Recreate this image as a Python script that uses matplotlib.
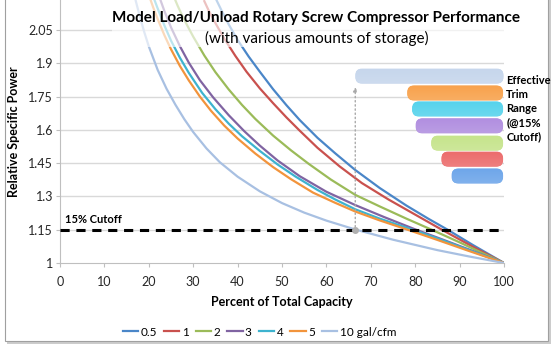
import numpy as np
import matplotlib
matplotlib.use("Agg")
import matplotlib.pyplot as plt
from matplotlib.patches import FancyBboxPatch, Rectangle

plt.rcParams['font.family'] = ['Lato', 'DejaVu Sans']

# ---- data ----
labels = ["0.5", "1", "2", "3", "4", "5", "10 gal/cfm"]
colors = ["#4a86c8", "#c9514e", "#9bbb59", "#8064a2", "#3eb3cf", "#f2943c", "#a8c0e2"]

x_05 = [35.3, 36.5, 38, 40, 42.5, 45, 48, 51, 54, 58, 62, 66.5, 72, 78, 83, 87.3, 93, 100]
y_05 = [2.182, 2.133, 2.075, 2.005, 1.930, 1.862, 1.783, 1.711, 1.644, 1.564, 1.494,
        1.419, 1.338, 1.259, 1.199, 1.150, 1.081, 1.0]

x_1 = [32.5, 33.5, 35, 37, 39.5, 42, 45, 48, 51, 54, 58, 63, 68, 74, 80, 86, 93, 100]
y_1 = [2.180, 2.137, 2.081, 2.011, 1.933, 1.862, 1.787, 1.720, 1.656, 1.596, 1.519,
       1.435, 1.360, 1.286, 1.218, 1.150, 1.073, 1.0]

x_2 = [25.5, 26.5, 28, 30, 32.5, 35, 38, 41, 44, 48, 52, 56, 61, 66.5, 72, 78, 83.7, 90, 95, 100]
y_2 = [2.207, 2.159, 2.095, 2.020, 1.935, 1.860, 1.782, 1.712, 1.649, 1.574, 1.508,
       1.447, 1.376, 1.307, 1.255, 1.200, 1.150, 1.093, 1.046, 1.0]

x_3 = [22.5, 23.5, 25, 27, 29, 31.5, 34.5, 38, 41.5, 45, 49, 54, 60, 66.5, 73, 80.2, 86, 93, 100]
y_3 = [2.192, 2.136, 2.062, 1.977, 1.903, 1.824, 1.746, 1.666, 1.594, 1.529, 1.462,
       1.391, 1.321, 1.261, 1.207, 1.150, 1.107, 1.054, 1.0]

x_4 = [21, 22, 23.5, 25, 27, 29, 32, 35, 38, 41, 45, 49, 53, 58, 62, 66.5, 72, 79.4, 85, 92, 100]
y_4 = [2.200, 2.147, 2.071, 2.002, 1.925, 1.857, 1.767, 1.693, 1.628, 1.571, 1.505,
       1.444, 1.390, 1.329, 1.286, 1.242, 1.200, 1.150, 1.111, 1.059, 1.0]

x_5 = [20, 21, 22, 23.5, 25, 27, 29, 31.5, 34, 37, 40, 44, 48, 52, 57, 62, 66.5, 72, 78.3, 85, 92, 100]
y_5 = [2.208, 2.151, 2.099, 2.027, 1.963, 1.888, 1.823, 1.750, 1.686, 1.619, 1.561,
       1.493, 1.432, 1.378, 1.317, 1.271, 1.232, 1.192, 1.150, 1.104, 1.055, 1.0]

x_10 = [17, 18, 19, 20, 22, 24, 26, 28, 30, 33, 36, 40, 45, 50, 55, 60, 66.5, 75, 85, 92, 100]
y_10 = [2.186, 2.109, 2.039, 1.976, 1.870, 1.785, 1.713, 1.648, 1.590, 1.516, 1.454,
        1.389, 1.323, 1.270, 1.227, 1.191, 1.151, 1.105, 1.058, 1.030, 1.0]

series_x = [x_05, x_1, x_2, x_3, x_4, x_5, x_10]
series_y = [y_05, y_1, y_2, y_3, y_4, y_5, y_10]

# effective trim range bars (start of range at 15% cutoff), top bar first
trim_start = [66.6, 78.3, 79.4, 80.2, 83.7, 86.0, 88.3]
trim_end = [99.8, 99.7, 99.7, 99.7, 99.7, 99.7, 99.7]
trim_y = [1.842, 1.766, 1.694, 1.618, 1.540, 1.468, 1.392]
trim_colors = ["#c6d6ec", "#f8a24c", "#56d3ec", "#b18fe0", "#c6e48c", "#ec6c6c", "#6ea6ea"]
bar_h = 0.064

cutoff = 1.15
cutoff_x = 66.5

yticks = [1, 1.15, 1.3, 1.45, 1.6, 1.75, 1.9, 2.05]
ytick_labels = ["1", "1.15", "1.3", "1.45", "1.6", "1.75", "1.9", "2.05"]
xticks = list(range(0, 101, 10))

# ---- figure ----
fig = plt.figure(figsize=(5.59, 3.52), dpi=100)

# outer frame with shadow
fig.patches.append(Rectangle((7 / 559, 1 - 344 / 352), 544 / 559, 344 / 352,
                             transform=fig.transFigure, facecolor="#9a9a9a",
                             edgecolor="none", alpha=0.5, zorder=-2))
fig.patches.append(Rectangle((5 / 559, 1 - 341 / 352), 543 / 559, 343 / 352,
                             transform=fig.transFigure, facecolor="white",
                             edgecolor="#a0a0a0", lw=0.8, zorder=-1))

ax = fig.add_axes([60 / 559, 1 - 263 / 352, 444 / 559, 263 / 352])
ax.set_xlim(0, 100)
ax.set_ylim(1, 2.185)
ax.patch.set_alpha(0)

for yv in yticks[1:]:
    ax.axhline(yv, color="#d9d9d9", lw=1, zorder=0)

lines = []
for xs, ys, c, lab in zip(series_x, series_y, colors, labels):
    ln, = ax.plot(xs, ys, color=c, lw=1.6, label=lab, zorder=2,
                  solid_joinstyle="round")
    lines.append(ln)

# translucent title box over the tops of the curves
ax.add_patch(Rectangle((11.7, 1.975), 88.5, 0.25, facecolor="white",
                       edgecolor="none", alpha=0.65, zorder=3))

# cutoff line
ax.plot([0, 100], [cutoff, cutoff], color="black", lw=2.2,
        dashes=(3.0, 2.2), zorder=4)
ax.text(1.1, cutoff + 0.02, "15% Cutoff", fontsize=8, fontweight="bold",
        va="bottom", ha="left", zorder=5)

# dotted marker up to trim bars
ax.annotate("", xy=(cutoff_x, trim_y[0] - bar_h / 2 - 0.005), xytext=(cutoff_x, cutoff),
            arrowprops=dict(arrowstyle="-|>", color="#a8a8a8", lw=1.0,
                            linestyle=(0, (1, 2)), mutation_scale=6), zorder=4)
ax.plot([cutoff_x], [cutoff], "o", color="#b0b0b0", ms=4, zorder=5)

# trim range bars with a soft vertical gradient
for x0, x1, yc, c in zip(trim_start, trim_end, trim_y, trim_colors):
    patch = FancyBboxPatch((x0, yc - bar_h / 2), x1 - x0, bar_h,
                           boxstyle="round,pad=0,rounding_size=1.4",
                           mutation_aspect=0.02, facecolor=c,
                           edgecolor=c, lw=0.6, zorder=5)
    ax.add_patch(patch)
    base = np.array(matplotlib.colors.to_rgb(c))
    grad = np.linspace(0, 1, 20)[:, None]
    img = np.zeros((20, 2, 3))
    for k in range(3):
        img[:, :, k] = base[k] * (0.88 + 0.12 * grad) + (0.12 - 0.12 * grad)
    im = ax.imshow(img, extent=(x0, x1, yc - bar_h / 2, yc + bar_h / 2),
                   aspect="auto", origin="lower", zorder=6, interpolation="bilinear")
    im.set_clip_path(patch)

ax.text(100.5, trim_y[0] + 0.004, "Effective\nTrim\nRange\n(@15%\nCutoff)",
        fontsize=8, fontweight="bold", va="top", ha="left",
        linespacing=1.32, zorder=6, clip_on=False)

# axes styling
ax.set_yticks(yticks)
ax.set_yticklabels(ytick_labels)
ax.set_xticks(xticks)
ax.tick_params(axis="both", labelsize=9, labelcolor="#262626", length=3,
               width=0.8, pad=2, color="#bfbfbf")
ax.tick_params(axis="x", pad=6)
for s in ["top", "right"]:
    ax.spines[s].set_visible(False)
for s in ["left", "bottom"]:
    ax.spines[s].set_color("#bfbfbf")
    ax.spines[s].set_linewidth(0.8)

ax.set_xlabel("Percent of Total Capacity", fontsize=9, fontweight="bold", labelpad=6)
ax.set_ylabel("Relative Specific Power", fontsize=9, fontweight="bold", labelpad=6)

fig.text(316 / 559, 1 - 18 / 352, "Model Load/Unload Rotary Screw Compressor Performance",
         fontsize=11, fontweight="bold", ha="center", va="center", zorder=10)
fig.text(317 / 559, 1 - 38 / 352, "(with various amounts of storage)",
         fontsize=11, ha="center", va="center", zorder=10)

fig.legend(handles=lines, labels=labels, loc="center", ncol=7,
           bbox_to_anchor=(259.5 / 559, 1 - 332 / 352), frameon=False,
           fontsize=8.5, handlelength=1.3, handletextpad=0.2, columnspacing=0.6)

fig.savefig("out.png", dpi=100)
